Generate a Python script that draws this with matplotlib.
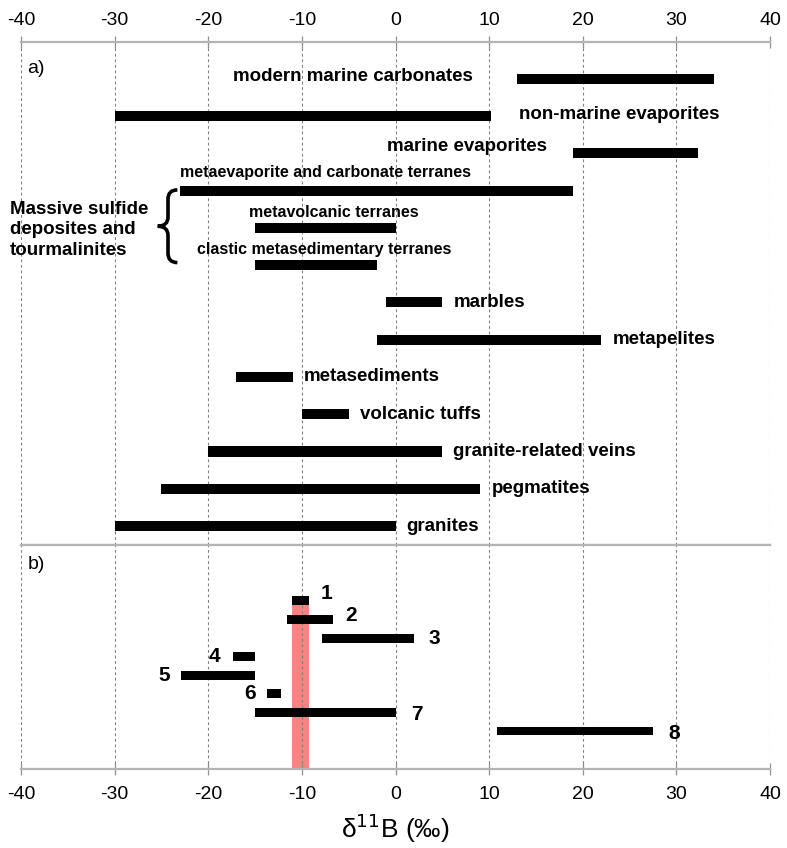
import matplotlib.pyplot as plt
from matplotlib.path import Path
from matplotlib.patches import PathPatch, Rectangle

plt.rcParams['font.family'] = ['Liberation Sans', 'DejaVu Sans']
plt.rcParams['axes.unicode_minus'] = False

# a) boron isotope ranges of the reservoirs
reservoirs = ['modern marine carbonates', 'non-marine evaporites', 'marine evaporites',
              'metaevaporite and carbonate terranes', 'metavolcanic terranes',
              'clastic metasedimentary terranes', 'marbles', 'metapelites',
              'metasediments', 'volcanic tuffs', 'granite-related veins',
              'pegmatites', 'granites']
res_min = [13, -30, 19, -23, -15, -15, -1, -2, -17, -10, -20, -25, -30]
res_max = [34, 10.2, 32.3, 19, 0, -2, 5, 22, -11, -5, 5, 9, 0]

# b) samples
samples = ['1', '2', '3', '4', '5', '6', '7', '8']
smp_min = [-11.1, -11.6, -7.9, -17.4, -22.9, -13.7, -15, 10.8]
smp_max = [-9.2, -6.7, 2, -15, -15, -12.2, 0, 27.5]

ticks = [-40, -30, -20, -10, 0, 10, 20, 30, 40]

# label placement: (side, dx pt, dy pt, fontsize)
lab_a = [('left', -32, 2, 13.5), ('right', 20, 1.5, 13.5), ('left', -19, 5, 13.5),
         ('above', 0, 13, 11.5), ('center', 6, 11, 11.5), ('center', 6, 11.5, 11.5),
         ('right', 8, 0, 13.5), ('right', 8, 0, 13.5), ('right', 8, 0, 13.5),
         ('right', 8, 0, 13.5), ('right', 8, 0, 13.5), ('right', 9, 0, 13.5),
         ('right', 8, 0, 13.5)]
lab_b = [('right', 8, 5), ('right', 9, 3), ('right', 10, 0), ('left', -9, 0),
         ('left', -8, 0), ('left', -8, 0), ('right', 11, -1.5), ('right', 11, -1.5)]

axis_grey = '#b4b4b4'

fig = plt.figure(figsize=(7.87, 8.48), dpi=100)
ax_a = fig.add_axes([0.0267, 0.3573, 0.9517, 0.5932])
ax_b = fig.add_axes([0.0267, 0.0932, 0.9517, 0.2642])

for ax in (ax_a, ax_b):
    ax.set_xlim(-40, 40)
    ax.set_xticks(ticks)
    ax.set_yticks([])
    ax.set_axisbelow(True)
    ax.grid(axis='x', color='#808080', linestyle=(0, (2.5, 2.5)), linewidth=0.8)
    for s in ('left', 'right'):
        ax.spines[s].set_visible(False)
    for s in ('top', 'bottom'):
        ax.spines[s].set_color(axis_grey)
        ax.spines[s].set_linewidth(1.6)
    ax.tick_params(axis='x', direction='inout', length=9, width=0.9, color='#909090',
                   labelsize=14, pad=5)

ax_a.xaxis.tick_top()
ax_b.xaxis.tick_bottom()
ax_b.tick_params(axis='x', pad=8)

# panel a
ax_a.set_ylim(12.51, -0.99)
rows = list(range(len(reservoirs)))
ax_a.barh(rows, [h - l for l, h in zip(res_min, res_max)], left=res_min,
          height=0.27, color='black', zorder=2)
for i, name in enumerate(reservoirs):
    side, dx, dy, fs = lab_a[i]
    if side == 'right':
        x, ha = res_max[i], 'left'
    elif side == 'left':
        x, ha = res_min[i], 'right'
    elif side == 'above':
        x, ha = res_min[i], 'left'
    else:
        x, ha = (res_min[i] + res_max[i]) / 2, 'center'
    ax_a.annotate(name, (x, i), xytext=(dx, dy), textcoords='offset points',
                  ha=ha, va='center', fontsize=fs, fontweight='bold')

ax_a.text(-39.3, -0.29, 'a)', fontsize=14, ha='left', va='center')

# brace for the massive sulfide group (rows 3-5)
y0, y1 = 3 - 0.02, 5 - 0.07
ym = (y0 + y1) / 2
xe = min(res_min[3:6]) - 0.3
xs = xe - 1.0
xt = xe - 2.1
verts = [(xe, y0), (xs, y0), (xs, y0 + 0.25), (xs, ym - 0.25), (xs, ym), (xt, ym),
         (xs, ym), (xs, ym + 0.25), (xs, y1 - 0.25), (xs, y1), (xe, y1)]
codes = [Path.MOVETO, Path.CURVE3, Path.CURVE3, Path.LINETO, Path.CURVE3, Path.CURVE3,
         Path.CURVE3, Path.CURVE3, Path.LINETO, Path.CURVE3, Path.CURVE3]
ax_a.add_patch(PathPatch(Path(verts, codes), fill=False, lw=2.6, color='black',
                         capstyle='butt', clip_on=False, zorder=3))
ax_a.text(-41.2, ym + 0.1, 'Massive sulfide\ndeposites and\ntourmalinites',
          fontsize=13.5, fontweight='bold', ha='left', va='center', linespacing=1.3,
          clip_on=False)

# panel b
ax_b.set_ylim(9.04, -3.01)
rows_b = list(range(len(samples)))
ax_b.barh(rows_b, [h - l for l, h in zip(smp_min, smp_max)], left=smp_min,
          height=0.48, color='black', zorder=2)
ax_b.add_patch(Rectangle((smp_min[0], 0.24), smp_max[0] - smp_min[0], 12,
                         color='#f98282', zorder=0.4, lw=0))
for i, name in enumerate(samples):
    side, dx, dy = lab_b[i]
    if side == 'right':
        x, ha = smp_max[i], 'left'
    else:
        x, ha = smp_min[i], 'right'
    ax_b.annotate(name, (x, i), xytext=(dx, dy), textcoords='offset points',
                  ha=ha, va='center', fontsize=15, fontweight='bold')

ax_b.text(-39.3, -1.94, 'b)', fontsize=14, ha='left', va='center')
ax_b.set_xlabel('δ$^{11}$B (‰)', fontsize=19, labelpad=6)

fig.savefig('out.png', dpi=100)
